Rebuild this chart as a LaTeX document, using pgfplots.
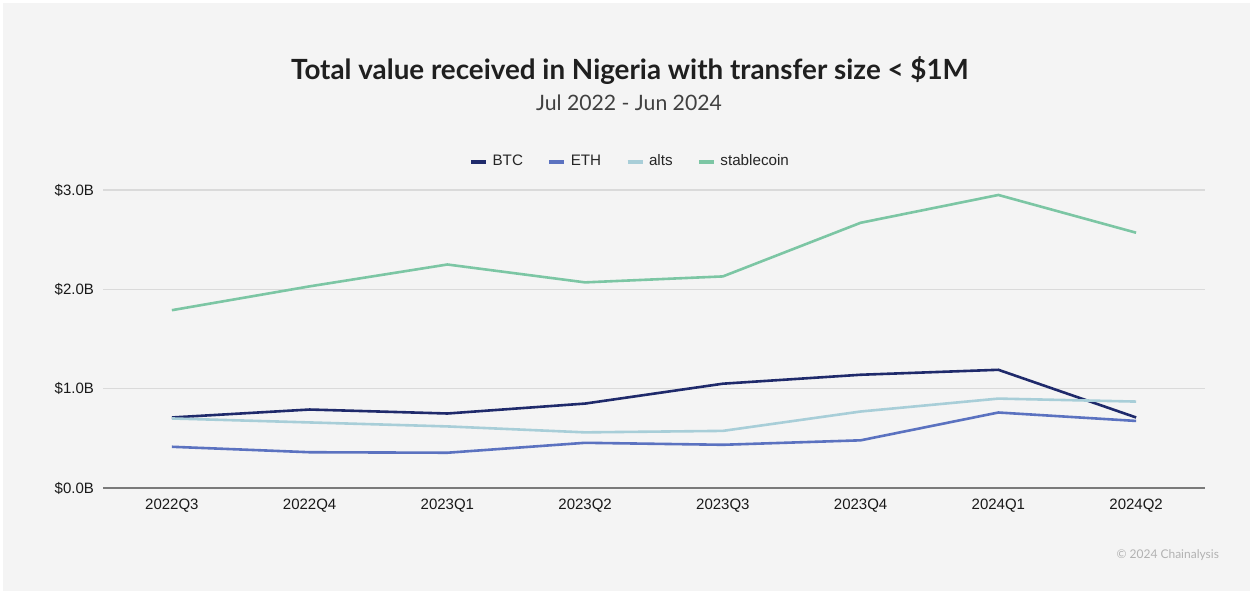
\documentclass[border=0pt]{standalone}
\usepackage{pgfplots}
\pgfplotsset{compat=1.18}
\usepackage{fontspec}
\setmainfont{Liberation Sans}
\newfontfamily\titlefont{Lato}
\definecolor{bgc}{HTML}{F4F4F4}
\definecolor{btc}{HTML}{1F2A6B}
\definecolor{eth}{HTML}{5B72C0}
\definecolor{alts}{HTML}{A8CED8}
\definecolor{stab}{HTML}{7CC6A4}
\definecolor{gridc}{HTML}{DADADA}
\definecolor{axc}{HTML}{7A7A7A}
\begin{document}
\begin{tikzpicture}[x=0.5pt,y=0.5pt]
\fill[white] (0,0) rectangle (1253,594);
\fill[bgc] (3,3) rectangle (1250,591);
\node[font=\titlefont\bfseries\fontsize{13.9}{16}\selectfont, text=black!88] at (630,523) {Total value received in Nigeria with transfer size < \$1M};
\node[font=\titlefont\fontsize{10.6}{12}\selectfont, text=black!75] at (629,491) {Jul 2022 - Jun 2024};
\node[font=\titlefont\fontsize{6}{7}\selectfont, text=black!30, anchor=east] at (1226,39) {© 2024 Chainalysis};
\begin{axis}[
  at={(51.5pt,53pt)}, anchor=south west,
  scale only axis, width=551pt, height=149pt,
  xmin=-0.5, xmax=7.5, ymin=0, ymax=3,
  clip=false,
  axis x line=bottom, axis y line=left,
  x axis line style={draw=axc, line width=1.2pt, -},
  y axis line style={draw=none},
  xtick={0,...,7},
  xticklabels={2022Q3,2022Q4,2023Q1,2023Q2,2023Q3,2023Q4,2024Q1,2024Q2},
  ytick={0,1,2,3},
  yticklabels={\$0.0B,\$1.0B,\$2.0B,\$3.0B},
  major tick length=0pt,
  ymajorgrids,
  major grid style={draw=gridc, line width=0.8pt},
  ticklabel style={font=\fontsize{7.5}{9}\selectfont, text=black!90},
  xticklabel style={yshift=-2pt},
  yticklabel style={xshift=-1pt},
  legend columns=4,
  legend style={at={(0.479,1.094)}, anchor=center, draw=none, fill=none,
    font=\fontsize{7.6}{9}\selectfont, text=black!85,
    /tikz/every even column/.append style={column sep=10pt}},
  legend image code/.code={\draw[line width=2.4pt] (0pt,0pt) -- (7.5pt,0pt);},
  every axis plot/.append style={line width=1.3pt},
]
\addplot[btc] coordinates {(0,0.71) (1,0.79) (2,0.75) (3,0.85) (4,1.05) (5,1.14) (6,1.19) (7,0.71)};
\addlegendentry{BTC}
\addplot[eth] coordinates {(0,0.415) (1,0.36) (2,0.355) (3,0.455) (4,0.435) (5,0.48) (6,0.76) (7,0.675)};
\addlegendentry{ETH}
\addplot[alts] coordinates {(0,0.70) (1,0.66) (2,0.62) (3,0.56) (4,0.575) (5,0.77) (6,0.90) (7,0.87)};
\addlegendentry{alts}
\addplot[stab] coordinates {(0,1.79) (1,2.03) (2,2.25) (3,2.07) (4,2.13) (5,2.67) (6,2.95) (7,2.57)};
\addlegendentry{stablecoin}
\end{axis}
\end{tikzpicture}
\end{document}
